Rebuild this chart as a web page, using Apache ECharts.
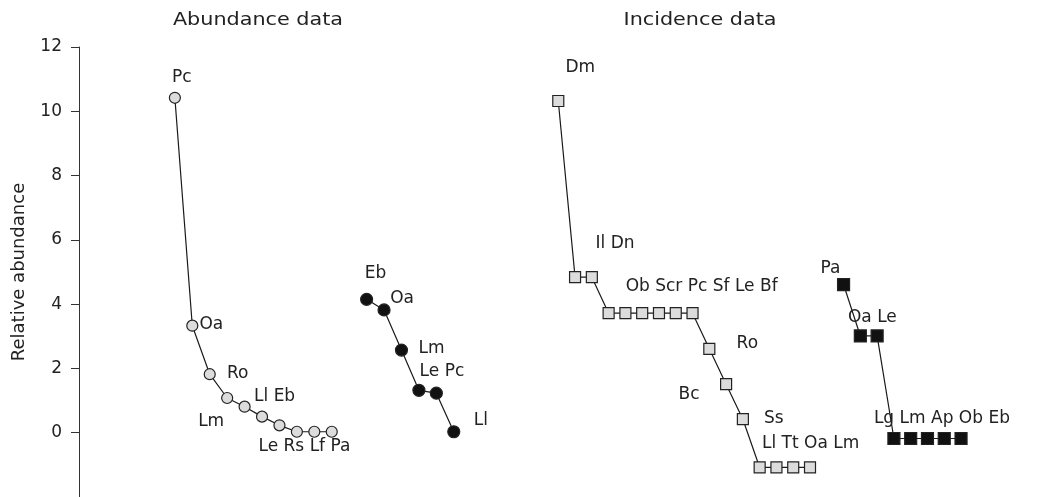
<!DOCTYPE html>
<html>
<head>
<meta charset="utf-8">
<script src="https://cdn.jsdelivr.net/npm/echarts@6/dist/echarts.min.js"></script>
<style>
    html, body { margin: 0; padding: 0; background: #fff; }
    #main { width: 1046px; height: 497px; }
</style>
</head>
<body>
<div id="main"></div>
<script>
// 数据：每个点的名称和相对丰度（排名顺序）
var abunOpenNames = ['Pc', 'Oa', 'Ro', 'Lm', 'Ll', 'Eb', 'Le', 'Rs', 'Lf', 'Pa'];
var abunOpenValues = [10.42, 3.33, 1.82, 1.08, 0.81, 0.50, 0.23, 0.03, 0.03, 0.03];
var abunOpenLabels = ['Pc', 'Oa', 'Ro', 'Lm', 'Ll Eb', '', 'Le Rs Lf Pa', '', '', ''];

var abunSolidNames = ['Eb', 'Oa', 'Lm', 'Le', 'Pc', 'Ll'];
var abunSolidValues = [4.15, 3.82, 2.57, 1.32, 1.23, 0.03];
var abunSolidLabels = ['Eb', 'Oa', 'Lm', 'Le Pc', '', 'Ll'];

var incOpenNames = ['Dm', 'Il', 'Dn', 'Ob', 'Scr', 'Pc', 'Sf', 'Le', 'Bf', 'Ro', 'Bc', 'Ss', 'Ll', 'Tt', 'Oa', 'Lm'];
var incOpenValues = [10.32, 4.84, 4.84, 3.72, 3.72, 3.72, 3.72, 3.72, 3.72, 2.61, 1.51, 0.42, -1.08, -1.08, -1.08, -1.08];
var incOpenLabels = ['Dm', 'Il Dn', '', 'Ob Scr Pc Sf Le Bf', '', '', '', '', '', 'Ro', 'Bc', 'Ss', 'Ll Tt Oa Lm', '', '', ''];

var incSolidNames = ['Pa', 'Oa', 'Le', 'Lg', 'Lm', 'Ap', 'Ob', 'Eb'];
var incSolidValues = [4.61, 3.01, 3.01, -0.18, -0.18, -0.18, -0.18, -0.18];
var incSolidLabels = ['Pa', 'Oa Le', '', 'Lg Lm Ap Ob Eb', '', '', '', ''];

// 每组起始排名位置
var abunOpenStart = 0, abunSolidStart = 11, incOpenStart = 0, incSolidStart = 17;

var yTicks = [0, 2, 4, 6, 8, 10, 12];

// 标签偏移（像素）
var labelOffsets = {
    abunOpen: [[7, -20], [19, -1], [28, -1], [-16, 24], [30, -10], null, [25, 21]],
    abunSolid: [[9, -26], [18, -11], [30, -2], [23, -19], null, [27, -11]],
    incOpen: [[22, -33], [40, -34], null, [93, -27], null, null, null, null, null, [38, -5], [-37, 10], [31, -1], [51, -24]],
    incSolid: [[-13, -16], [12, -18], null, [48, -20]]
};

var font = '"DejaVu Sans", Verdana, sans-serif';

var chart = echarts.init(document.getElementById('main'));

function buildData(start, values, labels, names, key) {
    var arr = [];
    for (var i = 0; i < values.length; i++) {
        var item = { name: names[i], value: [start + i, values[i]] };
        if (labels[i]) {
            item.label = {
                show: true,
                formatter: labels[i],
                position: 'inside',
                offset: labelOffsets[key][i] || [0, -16]
            };
        }
        arr.push(item);
    }
    return arr;
}

function buildSeries(idx, symbol, size, fill, values, labels, names, start, key) {
    return {
        type: 'line',
        xAxisIndex: idx,
        yAxisIndex: idx,
        symbol: symbol,
        symbolSize: size,
        showAllSymbol: true,
        lineStyle: { color: '#1a1a1a', width: 1.2 },
        itemStyle: { color: fill, borderColor: '#222', borderWidth: 1.2 },
        label: {
            show: false,
            color: '#222',
            fontSize: 17,
            fontFamily: font,
            align: 'center',
            verticalAlign: 'middle'
        },
        emphasis: { disabled: true },
        z: 3,
        data: buildData(start, values, labels, names, key)
    };
}

var option = {
    animation: false,
    backgroundColor: '#fff',
    grid: [
        { left: 79, top: 47, height: 460.5, width: 392.2 },
        { left: 541.5, top: 47, height: 460.5, width: 453.1 }
    ],
    xAxis: [
        { gridIndex: 0, type: 'value', min: -5.5, max: 17, show: false },
        { gridIndex: 1, type: 'value', min: -1, max: 26, show: false }
    ],
    yAxis: [
        {
            gridIndex: 0,
            type: 'value',
            min: -2,
            max: 12,
            interval: 2,
            name: 'Relative abundance',
            nameLocation: 'middle',
            nameGap: 51,
            nameTextStyle: { fontSize: 18, color: '#222', fontFamily: font },
            axisLine: { show: true, onZero: false, lineStyle: { color: '#333', width: 1 } },
            axisTick: { show: true, length: 8, lineStyle: { color: '#333' } },
            axisLabel: {
                color: '#222',
                fontSize: 17,
                fontFamily: font,
                margin: 17,
                formatter: function (v) { return yTicks.indexOf(v) >= 0 ? String(v) : ''; }
            },
            splitLine: { show: false }
        },
        { gridIndex: 1, type: 'value', min: -2, max: 12, interval: 2, show: false }
    ],
    graphic: [
        { type: 'text', x: 258, y: 21, scaleX: 1.22, style: { text: 'Abundance data', font: '17px ' + font, fill: '#222', textAlign: 'center', textVerticalAlign: 'middle' } },
        { type: 'text', x: 700, y: 21, scaleX: 1.22, style: { text: 'Incidence data', font: '17px ' + font, fill: '#222', textAlign: 'center', textVerticalAlign: 'middle' } }
    ],
    series: [
        buildSeries(0, 'circle', 11, '#dcdcdc', abunOpenValues, abunOpenLabels, abunOpenNames, abunOpenStart, 'abunOpen'),
        buildSeries(0, 'circle', 12, '#111', abunSolidValues, abunSolidLabels, abunSolidNames, abunSolidStart, 'abunSolid'),
        buildSeries(1, 'rect', 11, '#dcdcdc', incOpenValues, incOpenLabels, incOpenNames, incOpenStart, 'incOpen'),
        buildSeries(1, 'rect', 12, '#111', incSolidValues, incSolidLabels, incSolidNames, incSolidStart, 'incSolid')
    ]
};

chart.setOption(option);
</script>
</body>
</html>
